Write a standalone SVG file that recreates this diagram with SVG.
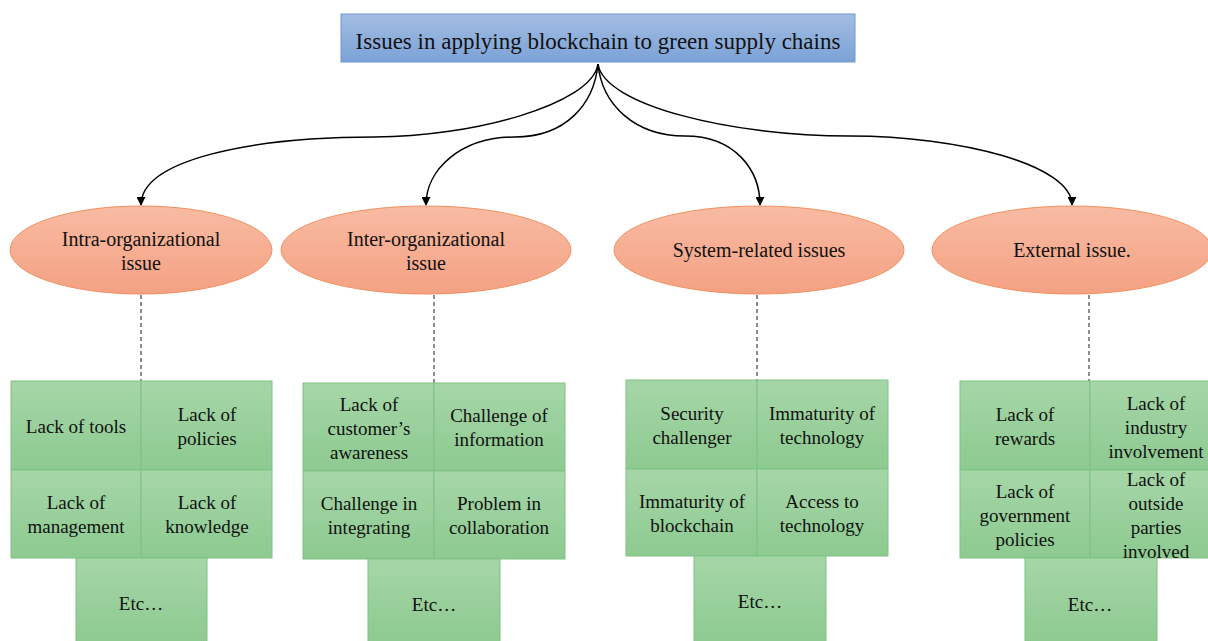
<svg xmlns="http://www.w3.org/2000/svg" width="1208" height="641" viewBox="0 0 1208 641">
<defs>
<linearGradient id="gBlue" x1="0" y1="0" x2="0" y2="1"><stop offset="0" stop-color="#a3bde3"/><stop offset="1" stop-color="#7ba2d6"/></linearGradient>
<linearGradient id="gOr" x1="0" y1="0" x2="0" y2="1"><stop offset="0" stop-color="#f8bba3"/><stop offset="1" stop-color="#f4a183"/></linearGradient>
<linearGradient id="gGr" x1="0" y1="0" x2="0" y2="1"><stop offset="0" stop-color="#a6d6a8"/><stop offset="1" stop-color="#8dca90"/></linearGradient>
<marker id="arr" viewBox="0 0 10 10" refX="9" refY="5" markerWidth="9" markerHeight="9" markerUnits="userSpaceOnUse" orient="auto"><path d="M0,0 L10,5 L0,10 z" fill="#000"/></marker>
</defs>
<style>
text{fill:#111;text-anchor:middle;font-family:"Liberation Serif","Times New Roman",Times,"DejaVu Serif",serif}
.t{font-size:23px}
.e{font-size:20px}
.b{font-size:19px}
.ell{fill:url(#gOr);stroke:#f2915f;stroke-width:1}
.cell{fill:url(#gGr);stroke:#7fc283;stroke-width:1}
.con{fill:none;stroke:#000;stroke-width:1.5}
.dash{fill:none;stroke:#444;stroke-width:1.2;stroke-dasharray:4,3}
</style>
<rect width="1208" height="641" fill="#fff"/>
<g id="root">
<rect x="341" y="14" width="514" height="48" fill="url(#gBlue)" stroke="#6e98d1" stroke-width="1"/>
<text class="t" x="598" y="49">Issues in applying blockchain to green supply chains</text>
</g>

<g id="connectors">
<path class="con" marker-end="url(#arr)" d="M598,64 C592,105 470,137 375,137 C250,137 141,160 141,205"/>
<path class="con" marker-end="url(#arr)" d="M598,64 C594,105 565,137 515,137 C460,137 426,170 426,205"/>
<path class="con" marker-end="url(#arr)" d="M598,64 C602,105 635,136 685,136 C735,136 760,170 760,205"/>
<path class="con" marker-end="url(#arr)" d="M598,64 C604,105 730,136 850,136 C960,136 1072,165 1072,205"/>
<line class="dash" x1="141" y1="295" x2="141" y2="381"/>
<line class="dash" x1="434" y1="295" x2="434" y2="383"/>
<line class="dash" x1="757" y1="295" x2="757" y2="380"/>
<line class="dash" x1="1089" y1="295" x2="1089" y2="381"/>
</g>

<g id="intra">
<ellipse class="ell" cx="141" cy="250" rx="131" ry="44"/>
<text class="e" x="141" y="246">Intra-organizational</text>
<text class="e" x="141" y="270">issue</text>
</g>
<g id="inter">
<ellipse class="ell" cx="426" cy="250" rx="145" ry="44"/>
<text class="e" x="426" y="246">Inter-organizational</text>
<text class="e" x="426" y="270">issue</text>
</g>
<g id="system">
<ellipse class="ell" cx="759" cy="250" rx="145" ry="44"/>
<text class="e" x="759" y="257">System-related issues</text>
</g>
<g id="external">
<ellipse class="ell" cx="1072" cy="250" rx="140" ry="44"/>
<text class="e" x="1072" y="257">External issue.</text>
</g>

<g id="intra-items">
<rect class="cell" x="11" y="381" width="130" height="89"/>
<rect class="cell" x="141" y="381" width="131" height="89"/>
<rect class="cell" x="11" y="470" width="130" height="88"/>
<rect class="cell" x="141" y="470" width="131" height="88"/>
<rect class="cell" x="76" y="558" width="131" height="84"/>
<text class="b" x="76" y="433">Lack of tools</text>
<text class="b" x="207" y="421">Lack of</text><text class="b" x="207" y="445">policies</text>
<text class="b" x="76" y="509">Lack of</text><text class="b" x="76" y="533">management</text>
<text class="b" x="207" y="509">Lack of</text><text class="b" x="207" y="533">knowledge</text>
<text class="b" x="141" y="610">Etc…</text>
</g>

<g id="inter-items">
<rect class="cell" x="303" y="383" width="131" height="88"/>
<rect class="cell" x="434" y="383" width="131" height="88"/>
<rect class="cell" x="303" y="471" width="131" height="88"/>
<rect class="cell" x="434" y="471" width="131" height="88"/>
<rect class="cell" x="368" y="559" width="132" height="83"/>
<text class="b" x="369" y="411">Lack of</text><text class="b" x="369" y="435">customer’s</text><text class="b" x="369" y="459">awareness</text>
<text class="b" x="499" y="422">Challenge of</text><text class="b" x="499" y="446">information</text>
<text class="b" x="369" y="510">Challenge in</text><text class="b" x="369" y="534">integrating</text>
<text class="b" x="499" y="510">Problem in</text><text class="b" x="499" y="534">collaboration</text>
<text class="b" x="434" y="611">Etc…</text>
</g>

<g id="system-items">
<rect class="cell" x="626" y="380" width="131" height="89"/>
<rect class="cell" x="757" y="380" width="131" height="89"/>
<rect class="cell" x="626" y="469" width="131" height="87"/>
<rect class="cell" x="757" y="469" width="131" height="87"/>
<rect class="cell" x="694" y="556" width="132" height="86"/>
<text class="b" x="692" y="420">Security</text><text class="b" x="692" y="444">challenger</text>
<text class="b" x="822" y="420">Immaturity of</text><text class="b" x="822" y="444">technology</text>
<text class="b" x="692" y="508">Immaturity of</text><text class="b" x="692" y="532">blockchain</text>
<text class="b" x="822" y="508">Access to</text><text class="b" x="822" y="532">technology</text>
<text class="b" x="760" y="608">Etc…</text>
</g>

<g id="external-items">
<rect class="cell" x="960" y="381" width="130" height="89"/>
<rect class="cell" x="1090" y="381" width="131" height="89"/>
<rect class="cell" x="960" y="470" width="130" height="88"/>
<rect class="cell" x="1090" y="470" width="131" height="88"/>
<rect class="cell" x="1025" y="558" width="132" height="84"/>
<text class="b" x="1025" y="421">Lack of</text><text class="b" x="1025" y="445">rewards</text>
<text class="b" x="1156" y="410">Lack of</text><text class="b" x="1156" y="434">industry</text><text class="b" x="1156" y="458">involvement</text>
<text class="b" x="1025" y="498">Lack of</text><text class="b" x="1025" y="522">government</text><text class="b" x="1025" y="546">policies</text>
<text class="b" x="1156" y="486">Lack of</text><text class="b" x="1156" y="510">outside</text><text class="b" x="1156" y="534">parties</text><text class="b" x="1156" y="558">involved</text>
<text class="b" x="1090" y="611">Etc…</text>
</g>
</svg>
